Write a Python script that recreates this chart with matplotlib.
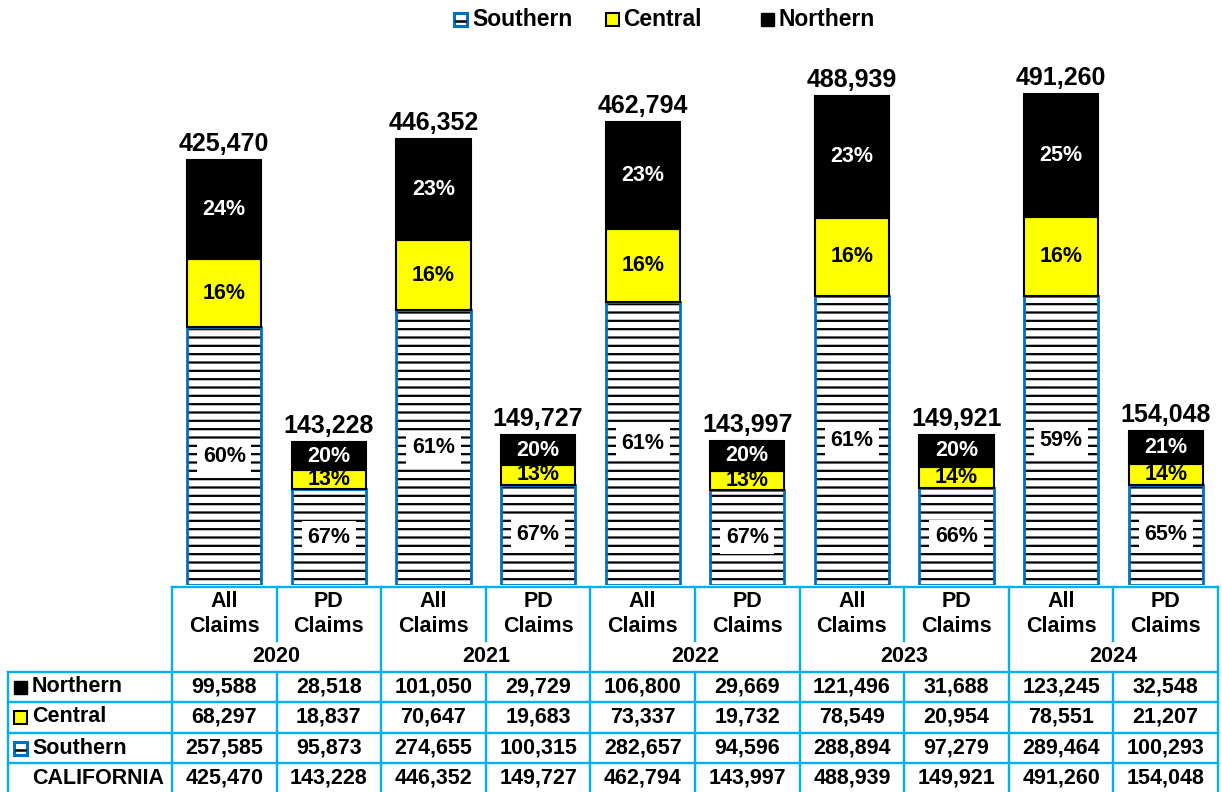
import matplotlib.pyplot as plt
from matplotlib.patches import Rectangle
import numpy as np

plt.rcParams['font.family'] = ['Liberation Sans', 'DejaVu Sans']
plt.rcParams['font.weight'] = 'bold'
plt.rcParams['hatch.linewidth'] = 1.6

years = ['2020', '2021', '2022', '2023', '2024']
kinds = ['All\nClaims', 'PD\nClaims']

all_north = [99588, 101050, 106800, 121496, 123245]
pd_north = [28518, 29729, 29669, 31688, 32548]
all_central = [68297, 70647, 73337, 78549, 78551]
pd_central = [18837, 19683, 19732, 20954, 21207]
all_south = [257585, 274655, 282657, 288894, 289464]
pd_south = [95873, 100315, 94596, 97279, 100293]

# percent labels as printed on the chart (All, PD, All, PD, ...)
north_pct = [24, 20, 23, 20, 23, 20, 23, 20, 25, 21]
central_pct = [16, 13, 16, 13, 16, 13, 16, 14, 16, 14]
south_pct = [60, 67, 61, 67, 61, 67, 61, 66, 59, 65]

north = np.array([v for pair in zip(all_north, pd_north) for v in pair])
central = np.array([v for pair in zip(all_central, pd_central) for v in pair])
south = np.array([v for pair in zip(all_south, pd_south) for v in pair])
total = north + central + south

W, H = 1222, 792
BLUE = '#0070C0'
LINE = '#00B0F0'
YEL = '#FFFF00'

fig = plt.figure(figsize=(W / 100, H / 100), dpi=100)

ax = fig.add_axes([172 / W, (H - 585) / H, 1046 / W, 585 / H])
x = np.arange(len(total))
bw = 0.71
ax.bar(x, south, bw, color='white', edgecolor='black', hatch='--', lw=0)
ax.bar(x, south, bw, fill=False, edgecolor=BLUE, lw=2)
ax.bar(x, central, bw, bottom=south, color=YEL, edgecolor='black', lw=1.5)
ax.bar(x, north, bw, bottom=south + central, color='black', edgecolor='black', lw=1.5)
ax.set_xlim(-0.5, len(total) - 0.5)
ax.set_ylim(0, 585000)
ax.axis('off')

for i in x:
    ax.text(i, total[i] + 4000, f'{total[i]:,}', ha='center', va='bottom', fontsize=18)
    ax.text(i, south[i] / 2, f'{south_pct[i]}%', ha='center', va='center', fontsize=15.5,
            bbox=dict(facecolor='white', edgecolor='none', pad=4))
    ax.text(i, south[i] + central[i] / 2, f'{central_pct[i]}%', ha='center', va='center',
            fontsize=15.5)
    ax.text(i, south[i] + central[i] + north[i] / 2, f'{north_pct[i]}%', ha='center',
            va='center', fontsize=15.5, color='white')

# table and legend drawn in pixel coordinates
tab = fig.add_axes([0, 0, 1, 1])
tab.set_xlim(0, W)
tab.set_ylim(H, 0)
tab.axis('off')

cx = [172 + i * 104.6 for i in range(11)]
lw = 1.7
tab.plot([cx[0], cx[10]], [587, 587], color=LINE, lw=lw)
for i, xx in enumerate(cx):
    if i % 2 == 0:
        tab.plot([xx, xx], [587, H], color=LINE, lw=lw)
    else:
        tab.plot([xx, xx], [587, 641], color=LINE, lw=lw)
        tab.plot([xx, xx], [672, H], color=LINE, lw=lw)
tab.plot([8, 8], [672, H], color=LINE, lw=lw)
for yy in [672, 702, 733, 763]:
    tab.plot([8, cx[10]], [yy, yy], color=LINE, lw=lw)

for i in range(10):
    tab.text((cx[i] + cx[i + 1]) / 2, 614, kinds[i % 2], ha='center', va='center',
             fontsize=15.5, linespacing=1.3)
for j, yr in enumerate(years):
    tab.text(cx[2 * j + 1], 657, yr, ha='center', va='center', fontsize=15.5)

rows = [('Northern', north), ('Central', central), ('Southern', south), ('CALIFORNIA', total)]
row_y = [687, 717, 748, 778]
for (name, vals), yy in zip(rows, row_y):
    tab.text(32, yy, name, ha='left', va='center', fontsize=15.5)
    for i in range(10):
        tab.text((cx[i] + cx[i + 1]) / 2, yy, f'{vals[i]:,}', ha='center', va='center',
                 fontsize=15.5)


def marker(px, py, kind):
    s = 13
    if kind == 'Northern':
        tab.add_patch(Rectangle((px, py - s / 2), s, s, facecolor='black', edgecolor='black', lw=1))
    elif kind == 'Central':
        tab.add_patch(Rectangle((px, py - s / 2), s, s, facecolor=YEL, edgecolor='black', lw=1.5))
    else:
        tab.add_patch(Rectangle((px, py - s / 2), s, s, facecolor='white', edgecolor=BLUE, lw=2.2))
        tab.plot([px + 2, px + s - 2], [py + 2, py + 2], color='black', lw=1.8)


for name, yy in zip(['Northern', 'Central', 'Southern'], row_y[:3]):
    marker(14, yy, name)

# legend
for name, mx, tx in [('Southern', 454, 472), ('Central', 606, 623), ('Northern', 761, 779)]:
    marker(mx, 19, name)
    tab.text(tx, 19, name, ha='left', va='center', fontsize=16.5)

fig.savefig('out.png', dpi=100)
